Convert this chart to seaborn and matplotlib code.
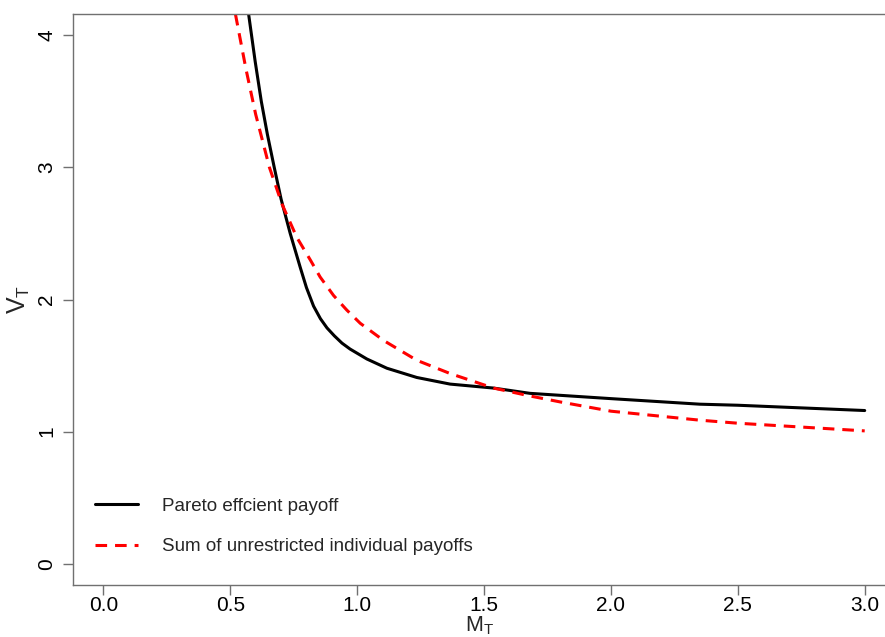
import numpy as np
import pandas as pd
import matplotlib
matplotlib.use("Agg")
import matplotlib.pyplot as plt
import seaborn as sns

# Pareto efficient payoff
pareto_m = [0.572, 0.598, 0.622, 0.646, 0.673, 0.700, 0.736, 0.776, 0.800, 0.828,
            0.855, 0.881, 0.910, 0.940, 0.972, 1.038, 1.117, 1.235, 1.366, 1.537,
            1.681, 2.0, 2.35, 2.5, 3.0]
pareto_v = [4.16, 3.80, 3.50, 3.25, 3.00, 2.76, 2.50, 2.24, 2.09, 1.95,
            1.855, 1.785, 1.725, 1.67, 1.625, 1.55, 1.48, 1.41, 1.36, 1.33,
            1.29, 1.25, 1.208, 1.20, 1.16]

# Sum of unrestricted individual payoffs
sum_m = [0.520, 0.562, 0.600, 0.654, 0.704, 0.762, 0.815, 0.854, 0.907, 0.959,
         1.012, 1.104, 1.235, 1.366, 1.537, 1.681, 1.80, 2.0, 2.35, 2.5, 3.0]
sum_v = [4.16, 3.74, 3.40, 3.00, 2.72, 2.47, 2.30, 2.17, 2.03, 1.92,
         1.82, 1.69, 1.54, 1.44, 1.33, 1.27, 1.225, 1.155, 1.087, 1.064, 1.006]

labels = ["Pareto effcient payoff", "Sum of unrestricted individual payoffs"]
x_ticks = [0.0, 0.5, 1.0, 1.5, 2.0, 2.5, 3.0]
y_ticks = [0, 1, 2, 3, 4]

sns.set_style("white")
plt.rcParams["font.family"] = ["Liberation Sans", "DejaVu Sans"]
plt.rcParams["mathtext.fontset"] = "custom"
plt.rcParams["mathtext.rm"] = "Liberation Sans"
plt.rcParams["mathtext.it"] = "Liberation Sans"

df1 = pd.DataFrame({"M": pareto_m, "V": pareto_v})
df2 = pd.DataFrame({"M": sum_m, "V": sum_v})

fig = plt.figure(figsize=(8.85, 6.37), dpi=100)
ax = fig.add_axes([73 / 885, 1 - 585 / 637, 1 - 73 / 885, (585 - 14) / 637])

sns.lineplot(data=df1, x="M", y="V", sort=False, ax=ax, color="black",
             linewidth=2.2, label=labels[0])
sns.lineplot(data=df2, x="M", y="V", sort=False, ax=ax, color="#ff0000",
             linewidth=2.2, label=labels[1])
ax.lines[1].set_dashes((3.8, 2.6))

ax.set_xlim(-0.12, 3.08)
ax.set_ylim(-0.16, 4.16)
ax.set_xticks(x_ticks)
ax.set_xticklabels([f"{t:.1f}" for t in x_ticks])
ax.set_yticks(y_ticks)
ax.set_yticklabels([str(t) for t in y_ticks], rotation=90, va="center")

for s in ["left", "bottom", "top"]:
    ax.spines[s].set_color("#707070")
    ax.spines[s].set_linewidth(1.0)
ax.spines["right"].set_visible(False)
ax.tick_params(axis="both", which="major", direction="out", length=7, width=1.0,
               color="#707070", labelsize=15, labelcolor="black", pad=5,
               bottom=True, left=True)
ax.tick_params(axis="x", pad=1)

ax.set_xlabel(r"$\mathrm{M}_\mathrm{T}$", fontsize=15.5, va="bottom")
ax.xaxis.set_label_coords(0.5, (585 - 637) / 571)
ax.set_ylabel(r"$\mathrm{V}_\mathrm{T}$", fontsize=18, labelpad=4)
ax.grid(False)

leg = ax.legend(frameon=False, loc="lower left", bbox_to_anchor=(0.0, 0.014),
                fontsize=13.5, handlelength=2.3, handletextpad=1.25,
                labelspacing=1.25, borderaxespad=0.77)

fig.savefig("out.png", dpi=100)
